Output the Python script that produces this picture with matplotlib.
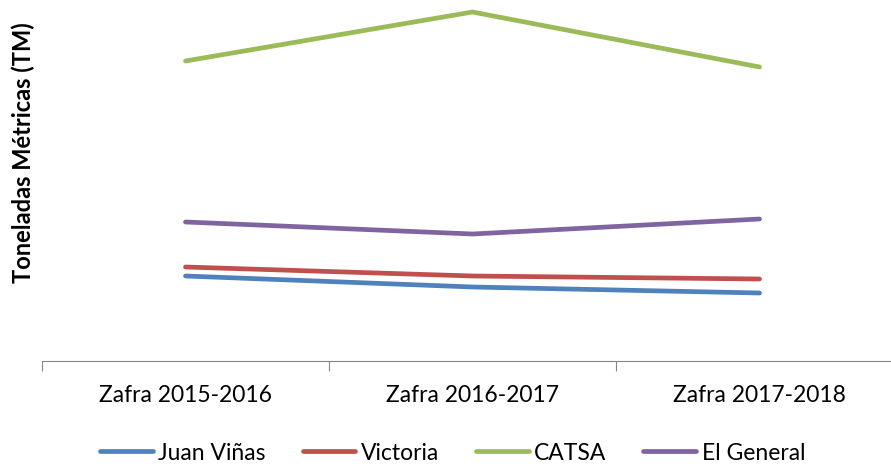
import matplotlib.pyplot as plt
import numpy as np

# datos (estimados de la imagen, escala arbitraria)
zafras = ['Zafra 2015-2016', 'Zafra 2016-2017', 'Zafra 2017-2018']
juan_vinas = [85, 74, 68]
victoria = [94, 85, 82]
catsa = [300, 349, 294]
el_general = [139, 127, 142]

series = [
    ('Juan Viñas', juan_vinas, '#4F81BD'),
    ('Victoria', victoria, '#C0504D'),
    ('CATSA', catsa, '#9BBB59'),
    ('El General', el_general, '#8064A2'),
]

plt.rcParams['font.family'] = ['Lato', 'DejaVu Sans']

fig = plt.figure(figsize=(8.91, 4.66), dpi=100)
ax = fig.add_axes([42 / 891, 105 / 466, 861 / 891, 361 / 466])

x = np.arange(len(zafras))
for nombre, valores, color in series:
    ax.plot(x, valores, color=color, lw=3.4, label=nombre, solid_capstyle='round')

ax.set_xlim(-0.5, len(zafras) - 0.5)
ax.set_ylim(0, 361)

# ticks en los bordes, etiquetas al centro
ax.set_xticks(np.arange(-0.5, len(zafras)), labels=[''] * (len(zafras) + 1))
ax.set_xticks(x, labels=zafras, minor=True)
ax.tick_params(axis='x', which='major', length=7, color='#868686', direction='out')
ax.tick_params(axis='x', which='minor', length=0, pad=17, labelsize=16.5)
ax.set_yticks([])

for s in ['top', 'right', 'left']:
    ax.spines[s].set_visible(False)
ax.spines['bottom'].set_color('#868686')

fig.text(23 / 891, 1 - 153 / 466, 'Toneladas Métricas (TM)', rotation=90,
         ha='center', va='center', fontsize=17, fontweight='bold')

fig.legend(loc='center', bbox_to_anchor=(0.508, 1 - 453 / 466), ncol=4, frameon=False,
           fontsize=16.5, handlelength=2.3, handletextpad=0.25, columnspacing=1.6)

fig.savefig('out.png', dpi=100)
